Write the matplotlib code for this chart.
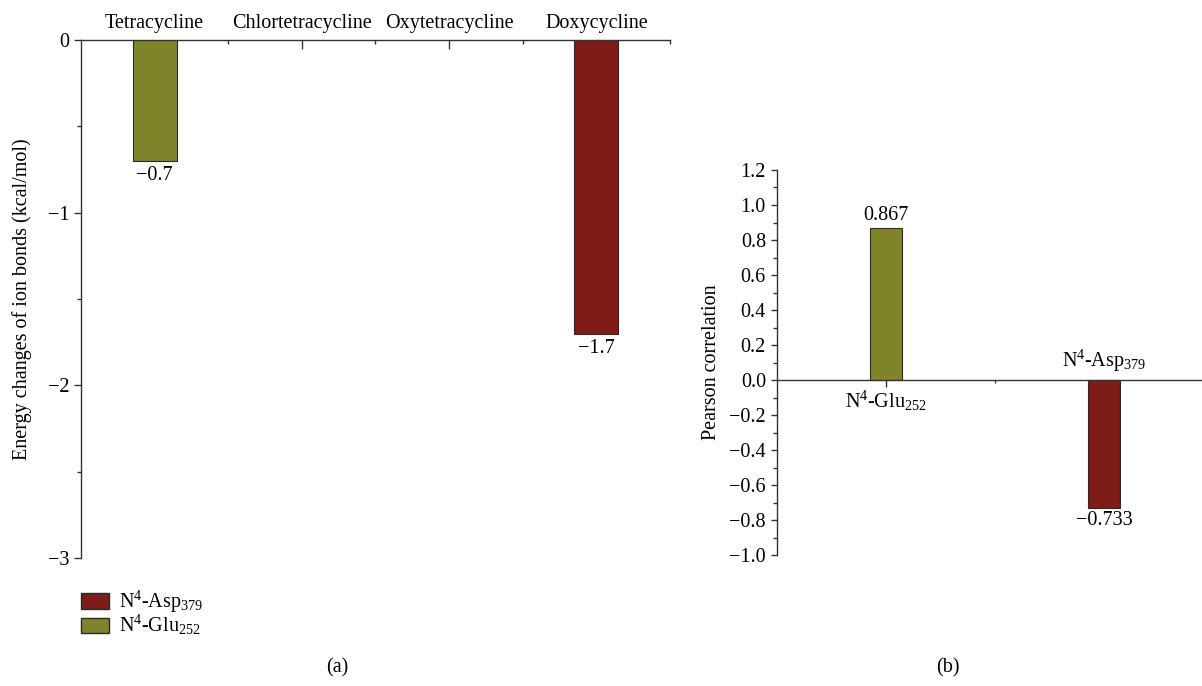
import numpy as np
import matplotlib.pyplot as plt
from matplotlib.patches import Patch
from matplotlib.ticker import MultipleLocator, FuncFormatter

plt.rcParams['font.family'] = ['Liberation Serif', 'DejaVu Serif']
plt.rcParams['mathtext.fontset'] = 'custom'
plt.rcParams['mathtext.rm'] = 'Liberation Serif'
plt.rcParams['mathtext.it'] = 'Liberation Serif:italic'
plt.rcParams['font.size'] = 14.5

# panel (a): ion bond energy changes
drugs = ["Tetracycline", "Chlortetracycline", "Oxytetracycline", "Doxycycline"]
asp379 = [np.nan, np.nan, np.nan, -1.7]
glu252 = [-0.7, np.nan, np.nan, np.nan]

# panel (b): Pearson correlation
residues = [r"N$^{4}$-Glu$_{252}$", r"N$^{4}$-Asp$_{379}$"]
pearson = [0.867, -0.733]

red = '#7e1c18'
olive = '#7f832a'
edge = '#2a2a2a'
axcol = '#333333'


def fmt_minus(v, nd):
    s = f"{v:.{nd}f}"
    if float(s) == 0:
        s = s.lstrip('-')
    return s.replace('-', '\u2212')


fig = plt.figure(figsize=(12.02, 6.86), dpi=100)

# ---- (a)
ax = fig.add_axes([81 / 1202, 1 - 558 / 686, (670 - 81) / 1202, (558 - 40) / 686])
x = np.arange(len(drugs))
ax.bar(x, asp379, width=0.3, color=red, edgecolor=edge, linewidth=0.8, zorder=2)
ax.bar(x, glu252, width=0.3, color=olive, edgecolor=edge, linewidth=0.8, zorder=2)
for series in (asp379, glu252):
    for xi, v in zip(x, series):
        if not np.isnan(v):
            ax.annotate(fmt_minus(v, 1), (xi, v), xytext=(0, -4), textcoords='offset points',
                        ha='center', va='top')
ax.set_xlim(-0.5, 3.5)
ax.set_ylim(-3, 0)
ax.xaxis.tick_top()
ax.set_xticks(x)
ax.set_xticklabels(drugs)
ax.set_xticks(x + 0.5, minor=True)
ax.tick_params(axis='x', which='major', direction='in', length=6.5, width=1, color=axcol, pad=5)
ax.tick_params(axis='x', which='minor', direction='in', length=3, width=1, color=axcol)
ax.yaxis.set_major_locator(MultipleLocator(1))
ax.yaxis.set_minor_locator(MultipleLocator(0.5))
ax.yaxis.set_major_formatter(FuncFormatter(lambda v, p: fmt_minus(v, 0)))
ax.tick_params(axis='y', which='major', direction='out', length=5, width=1, color=axcol)
ax.tick_params(axis='y', which='minor', direction='out', length=3, width=1, color=axcol)
for s in ('bottom', 'right'):
    ax.spines[s].set_visible(False)
for s in ('top', 'left'):
    ax.spines[s].set_color(axcol)
    ax.spines[s].set_linewidth(1)
ax.set_ylabel("Energy changes of ion bonds (kcal/mol)", labelpad=11)

handles = [Patch(facecolor=red, edgecolor=edge, label=r"N$^{4}$-Asp$_{379}$"),
           Patch(facecolor=olive, edgecolor=edge, label=r"N$^{4}$-Glu$_{252}$")]
fig.legend(handles=handles, loc='upper left', bbox_to_anchor=(73 / 1202, 1 - 581 / 686),
           frameon=False, handlelength=1.4, handleheight=0.8, handletextpad=0.5,
           labelspacing=-0.1, borderaxespad=0)

# ---- (b)
ax2 = fig.add_axes([777 / 1202, 1 - 555 / 686, (1202 - 777) / 1202, (555 - 170) / 686])
x2 = np.arange(len(residues))
cols2 = [olive, red]
ax2.bar(x2, pearson, width=0.15, color=cols2, edgecolor=edge, linewidth=0.8, zorder=2)
for xi, v, name in zip(x2, pearson, residues):
    if v >= 0:
        ax2.annotate(fmt_minus(v, 3), (xi, v), xytext=(0, 2), textcoords='offset points',
                     ha='center', va='bottom')
        ax2.annotate(name, (xi, 0), xytext=(0, -6), textcoords='offset points',
                     ha='center', va='top')
    else:
        ax2.annotate(fmt_minus(v, 3), (xi, v), xytext=(0, -2), textcoords='offset points',
                     ha='center', va='top')
        ax2.annotate(name, (xi, 0), xytext=(0, 4), textcoords='offset points',
                     ha='center', va='bottom')
ax2.set_xlim(-0.5, 1.45)
ax2.set_ylim(-1.0, 1.2)
ax2.spines['bottom'].set_position(('data', 0))
for s in ('top', 'right'):
    ax2.spines[s].set_visible(False)
for s in ('bottom', 'left'):
    ax2.spines[s].set_color(axcol)
    ax2.spines[s].set_linewidth(1)
ax2.set_xticks(x2)
ax2.set_xticklabels([])
ax2.set_xticks([0.5], minor=True)
ax2.tick_params(axis='x', which='major', direction='out', length=5, width=1, color=axcol)
ax2.tick_params(axis='x', which='minor', direction='out', length=2, width=1, color=axcol)
ax2.yaxis.set_major_locator(MultipleLocator(0.2))
ax2.yaxis.set_minor_locator(MultipleLocator(0.1))
ax2.yaxis.set_major_formatter(FuncFormatter(lambda v, p: fmt_minus(v, 1)))
ax2.tick_params(axis='y', which='major', direction='out', length=4.5, width=1, color=axcol)
ax2.tick_params(axis='y', which='minor', direction='out', length=3, width=1, color=axcol)
ax2.set_ylabel("Pearson correlation", labelpad=6)

fig.text(337 / 1202, 1 - 668 / 686, "(a)", ha='center', va='center')
fig.text(948 / 1202, 1 - 668 / 686, "(b)", ha='center', va='center')

fig.savefig("out.png", dpi=100)
